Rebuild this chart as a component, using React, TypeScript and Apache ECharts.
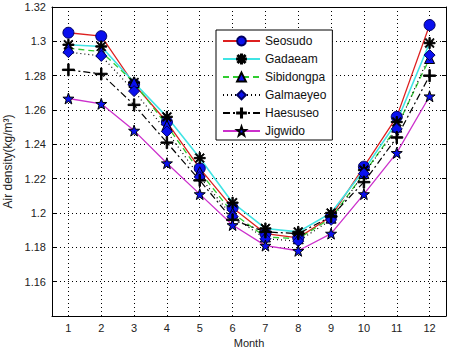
import React, { useEffect, useRef } from "react";
import * as echarts from "echarts";

const months = ["1", "2", "3", "4", "5", "6", "7", "8", "9", "10", "11", "12"];
const seosudo = [1.305, 1.303, 1.275, 1.253, 1.226, 1.203, 1.188, 1.1855, 1.198, 1.227, 1.256, 1.3095];
const gadaeam = [1.298, 1.297, 1.276, 1.256, 1.232, 1.206, 1.191, 1.189, 1.200, 1.225, 1.253, 1.299];
const sibidongpa = [1.296, 1.294, 1.276, 1.251, 1.224, 1.200, 1.186, 1.185, 1.197, 1.223, 1.250, 1.290];
const galmaeyeo = [1.2937, 1.2915, 1.271, 1.2475, 1.221, 1.198, 1.185, 1.1836, 1.196, 1.223, 1.249, 1.292];
const haesuseo = [1.2834, 1.281, 1.263, 1.241, 1.219, 1.196, 1.189, 1.188, 1.198, 1.218, 1.244, 1.280];
const jigwido = [1.2667, 1.2636, 1.248, 1.229, 1.211, 1.193, 1.181, 1.178, 1.188, 1.211, 1.235, 1.268];
const yTicks = { min: 1.14, max: 1.32, step: 0.02 };

const PLUS = "path://M4.4,0H5.6V10H4.4Z M0,4.4H10V5.6H0Z";
const ASTERISK =
  "path://M4.4,0H5.6V10H4.4Z M0,4.4H10V5.6H0Z M0.8,1.6L1.6,0.8L9.2,8.4L8.4,9.2Z M8.4,0.8L9.2,1.6L1.6,9.2L0.8,8.4Z";
const STAR =
  "path://M5,0L6.18,3.38L9.76,3.45L6.9,5.62L7.94,9.05L5,7L2.06,9.05L3.1,5.62L0.24,3.45L3.82,3.38Z";

const BLUE = "#0a10ee";
const FONT = "'Liberation Sans', Arial, sans-serif";

export default function App() {
  const ref = useRef<HTMLDivElement>(null);
  useEffect(() => {
    if (!ref.current) return;
    const chart = echarts.init(ref.current, null, { renderer: "svg" });
    const mk = (
      name: string,
      data: number[],
      color: string,
      lineType: any,
      symbol: string,
      size: number,
      fill: string,
      border: string,
      width = 1.3
    ) => ({
      name,
      type: "line",
      data,
      symbol,
      symbolSize: size,
      showSymbol: true,
      lineStyle: { color, width, type: lineType },
      itemStyle: { color: fill, borderColor: border, borderWidth: 1 },
      emphasis: { disabled: true },
    });
    chart.setOption({
      animation: false,
      backgroundColor: "#fff",
      textStyle: { fontFamily: FONT },
      grid: { left: 52, right: 4, top: 7, bottom: 32, outerBoundsMode: "none", containLabel: false },
      legend: {
        orient: "vertical",
        left: 216,
        top: 30,
        width: 113,
        padding: [5, 6, 3, 6],
        itemWidth: 37,
        itemHeight: 11,
        itemGap: 6,
        backgroundColor: "#fff",
        borderColor: "#000",
        borderWidth: 1,
        borderRadius: 0,
        textStyle: { fontFamily: FONT, fontSize: 12, lineHeight: 11, color: "#111" },
        data: ["Seosudo", "Gadaeam", "Sibidongpa", "Galmaeyeo", "Haesuseo", "Jigwido"],
      },
      xAxis: [
        {
          type: "category",
          data: months,
          boundaryGap: true,
          name: "Month",
          nameLocation: "middle",
          nameGap: 20,
          nameTextStyle: { fontFamily: FONT, fontSize: 11, color: "#222" },
          axisLine: { lineStyle: { color: "#000", width: 1 } },
          axisTick: { alignWithLabel: true, inside: true, length: 4, lineStyle: { color: "#000" } },
          axisLabel: { fontFamily: FONT, fontSize: 11, color: "#222", margin: 6 },
          splitLine: {
            show: true,
            alignWithLabel: true,
            lineStyle: { color: "#000", type: [1, 3], width: 1 },
          },
        },
        {
          type: "category",
          data: months,
          position: "top",
          boundaryGap: true,
          axisLine: { lineStyle: { color: "#000", width: 1 } },
          axisTick: { alignWithLabel: true, inside: true, length: 4, lineStyle: { color: "#000" } },
          axisLabel: { show: false },
          splitLine: { show: false },
        },
      ],
      yAxis: [
        {
          type: "value",
          min: yTicks.min,
          max: yTicks.max,
          interval: yTicks.step,
          name: "Air density(kg/m³)",
          nameLocation: "middle",
          nameGap: 30,
          nameTextStyle: { fontFamily: FONT, fontSize: 12, color: "#222" },
          axisLine: { show: true, lineStyle: { color: "#000", width: 1 } },
          axisTick: { show: true, inside: true, length: 4, lineStyle: { color: "#000" } },
          axisLabel: {
            fontFamily: FONT,
            fontSize: 11,
            color: "#222",
            margin: 6,
            formatter: (v: number) => (v < yTicks.min + 0.001 ? "" : String(parseFloat(v.toFixed(2)))),
          },
          splitLine: { show: true, lineStyle: { color: "#000", type: [1, 3], width: 1 } },
        },
        {
          type: "value",
          position: "right",
          min: yTicks.min,
          max: yTicks.max,
          interval: yTicks.step,
          axisLine: { show: true, lineStyle: { color: "#000", width: 1 } },
          axisTick: { show: true, inside: true, length: 4, lineStyle: { color: "#000" } },
          axisLabel: { show: false },
          splitLine: { show: false },
        },
      ],
      series: [
        mk("Seosudo", seosudo, "#dd2020", "solid", "circle", 11, BLUE, "#000060"),
        mk("Gadaeam", gadaeam, "#40e4e4", "solid", ASTERISK, 11, "#000", "#000", 1.6),
        mk("Sibidongpa", sibidongpa, "#30cc30", [6, 4], "triangle", 10, BLUE, "#000"),
        mk("Galmaeyeo", galmaeyeo, "#000", [1, 3], "diamond", 11, BLUE, "#000060", 1.2),
        mk("Haesuseo", haesuseo, "#000", [7, 3, 2, 3], PLUS, 12, "#000", "#000", 1.2),
        mk("Jigwido", jigwido, "#cc30cc", "solid", STAR, 11, BLUE, "#000"),
      ],
    });
    return () => chart.dispose();
  }, []);
  return (
    <div
      ref={ref}
      style={{ position: "fixed", left: 0, top: 0, width: 450, height: 348, background: "#fff" }}
    />
  );
}
